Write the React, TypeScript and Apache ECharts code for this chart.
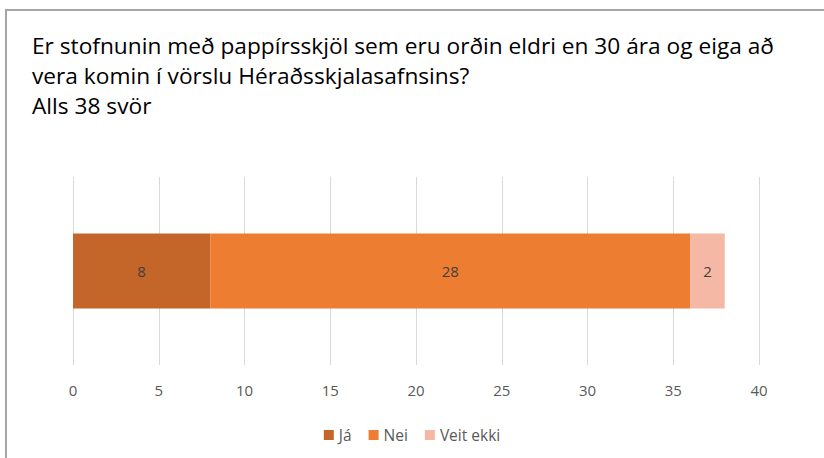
import React, { useEffect, useRef } from "react";
import * as echarts from "echarts";

const titleLines = [
  "Er stofnunin með pappírsskjöl sem eru orðin eldri en 30 ára og eiga að",
  "vera komin í vörslu Héraðsskjalasafnsins?",
  "Alls 38 svör",
];
const categories = [""];
const seriesNames = ["Já", "Nei", "Veit ekki"];
const jaValues = [8];
const neiValues = [28];
const veitEkkiValues = [2];
const colors = ["#C4652A", "#ED7D31", "#F4B8A4"];

export default function App() {
  const ref = useRef<HTMLDivElement>(null);
  useEffect(() => {
    if (!ref.current) return;
    const chart = echarts.init(ref.current, undefined, { renderer: "svg" });
    const values = [jaValues, neiValues, veitEkkiValues];
    chart.setOption({
      animation: false,
      backgroundColor: "#ffffff",
      title: {
        text: titleLines.join("\n"),
        left: 27,
        top: 25,
        textStyle: {
          fontFamily: "Open Sans",
          fontSize: 22.7,
          fontWeight: "normal",
          color: "#000000",
          lineHeight: 30,
        },
      },
      graphic: [
        {
          type: "rect",
          shape: { x: 6, y: 10, width: 840, height: 470 },
          style: { fill: "none", stroke: "#A6A6A6", lineWidth: 2 },
          silent: true,
        },
      ],
      grid: { left: 73, right: 65, top: 177, bottom: 93 },
      xAxis: {
        type: "value",
        min: 0,
        max: 40,
        interval: 5,
        axisLine: { show: false },
        axisTick: { show: false },
        splitLine: { lineStyle: { color: "#D9D9D9", width: 1 } },
        axisLabel: {
          color: "#595959",
          fontSize: 15,
          fontFamily: "Open Sans",
          margin: 17,
        },
      },
      yAxis: {
        type: "category",
        data: categories,
        axisLine: { show: false },
        axisTick: { show: false },
        axisLabel: { show: false },
      },
      legend: {
        bottom: 10,
        left: "center",
        itemWidth: 10,
        itemHeight: 10,
        itemGap: 17,
        icon: "rect",
        textStyle: { color: "#595959", fontSize: 15.5, fontFamily: "Open Sans" },
        data: seriesNames,
      },
      series: seriesNames.map((name, i) => ({
        name,
        type: "bar",
        stack: "total",
        barWidth: 75,
        data: values[i],
        itemStyle: { color: colors[i] },
        label: {
          show: true,
          position: "inside",
          color: "#404040",
          fontSize: 15,
          fontFamily: "Open Sans",
        },
      })),
    });
    return () => chart.dispose();
  }, []);
  return (
    <div
      ref={ref}
      style={{ position: "fixed", left: 0, top: 0, width: 824, height: 458 }}
    />
  );
}
